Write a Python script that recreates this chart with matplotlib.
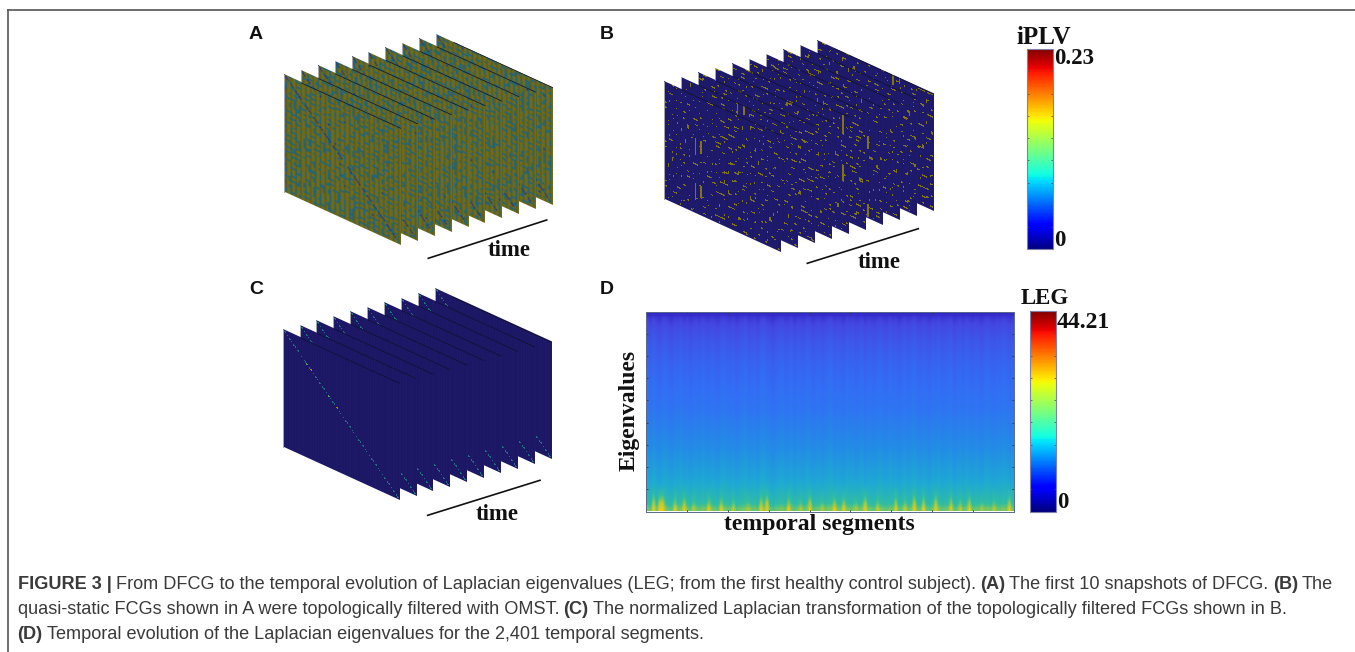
import numpy as np
import matplotlib
matplotlib.use("Agg")
import matplotlib.pyplot as plt
from matplotlib.cm import ScalarMappable
from matplotlib.colors import ListedColormap, LinearSegmentedColormap, Normalize
from matplotlib.transforms import Affine2D

# panel A: snapshot read on a 48x48 grid, . = olive, o = teal, # = deep blue
A_GRID = [
    "..o....o...oo.....o....o..oo...o.....o...o..oo..",
    "o....oo.....o..o.....oo.....o....oo.....o.....o.",
    "...o.....o.....#..o.....o.....o....o..o...oo....",
    ".o....oo...o.o.....oo.....o.o...oo.....o.....o..",
    "....o.....oo.....o.....o.....oo.....o.o...o.....",
    "oo.....o.....o.o...oo.....o.....o......oo....o.o",
    "...o.o...o.......o.....oo.....o...o.o.....o.....",
    ".....oo.....oo.o.....o.....o....oo.....o.....oo.",
    ".o.....o.o.....o..oo.....#....o.....o.....oo....",
    "...oo.....o.....o.....oo.....o...oo...o.o.....o.",
    "o.....o.....oo.....o.....o.o.....o.......oo.....",
    "..o.o...oo.....o.....oo.....oo.....oo.o.....o.o.",
    ".....oo.....o.....#o.....o.....o.....o...oo.....",
    "o.......o.o...oo.....o.o...oo....o.o.....o...oo.",
    "..oo.o.....o.....oo.....o.....o......oo.....o...",
    ".....o..oo...o.o.....o.....oo...o.o.....o.....o.",
    ".o.....o.....o....oo...o.o.....o.....oo...o.....",
    "...o.o...oo.....o.....o.....o.oo...o.....oo..o.o",
    "o.....o.....o.o...oo.....oo.....o.....o.o.......",
    "..oo.....o.....o.....#o.....o.....oo.....o..oo..",
    ".....o.o...oo.....o.....o.o...oo.....o.....o....",
    ".o.o.....o.....o.o...oo.....o.....o.o...oo....o.",
    "....oo.....oo.....o.....oo...oo.o.....o.....o...",
    "o.......o.o...o.oo...o.....o.....oo.....o.o...oo",
    "..o.oo.....o.....o.....o.o...o.o.....oo.....o...",
    ".....o..o.....oo...o.o.....oo.....o.o...oo......",
    ".oo.....o.oo.....o.....#o.....o.....o.....o.oo..",
    "....o.o.....o.o...oo.....o.o...oo...oo.o.....o..",
    "o.....oo.....o.....o.oo.....oo.....o.....oo.....",
    "..o.o.....oo...o.o.....o.....o.o.....o.o.....o.o",
    ".....oo.o.....o.....oo...o.o.....oo.....#.o.....",
    ".o.......o.oo.....o.....oo.....o.....o.o...oo...",
    "...oo.o.....o.o...oo.o.....oo...o.o.....o.....o.",
    "o.....o..oo.....o.....o.o.....o.....oo.....oo...",
    "..o.o.....o.o.....oo.....#o.....o.o...oo.o.....o",
    ".....oo.....oo.o.....o.o.....oo.....o.....o.o...",
    ".o.o.....o.....o..oo.....oo.....o.oo...o.....o..",
    "....oo.o...oo.....o.....o...oo.....o.o...oo.....",
    "oo.....o.....o.oo...o.o.....o..o.....oo.....o.o.",
    "...o.o...oo.....o.....oo.....o.....o.....o.oo...",
    ".....o.....o.oo...oo.....o.o...oo.o...oo.....o..",
    ".oo.....o.o.....o.....oo.....oo.....#.....o.o...",
    "...o.oo.....oo.....o.o...o.....o.o...oo.o.....oo",
    "o.....o..o.....o.o.....o...oo.....o.....o...o...",
    "..oo.....oo.o.....oo.....o.....oo...oo.....oo...",
    ".....o.o.....o.o.....o.o...oo.....o.....o.o....o",
    ".o.o.....oo.....o.oo.....o.....o.o..oo.....o....",
    "...oo.o.....o.o.....o..oo...o.....o.....oo...o.o",
]
A_DIAG = "1101011001101101011010110011011010110101101101"
A_SHIFT = [0, 11, 23, 5, 37, 17, 29, 41, 8, 19]
A_SHIFT2 = [31, 7, 44, 19, 3, 26, 13, 38, 22, 34]

# panel B: yellow cells per row on a 60x60 grid of the filtered snapshot
B_COLS = [
    [4, 5, 31, 52], [22, 23, 24, 47], [9, 38], [15, 44, 45, 46, 58], [2, 27, 33], [51], [12, 13, 40, 56], [6, 29, 30, 31],
    [18, 49], [3, 36, 37, 54, 55], [25], [10, 11, 43], [33, 34, 35, 50, 59], [1, 20], [7, 28, 46, 47], [16, 17, 41],
    [23, 38, 39, 53], [5, 31], [12, 44, 45, 57], [26, 27, 28, 29, 48], [9, 35], [2, 20, 21, 52], [14, 42, 43], [30, 55, 56],
    [6, 24, 25, 37], [18, 48, 49, 50], [11], [33, 34, 44, 59], [3, 4, 22, 40], [16, 28, 53, 54], [8, 9, 36, 37, 38],
    [25, 46], [13, 31, 32, 33, 51], [1, 19, 42], [6, 27, 57, 58], [15, 16, 17, 35, 36], [22, 47], [10, 40, 41, 53],
    [4, 29, 30, 31, 32], [18, 44], [12, 25, 26, 50, 51], [7, 37], [2, 20, 33, 34, 56], [15, 42, 48], [9, 27, 28],
    [16, 19, 38, 54], [5, 16, 19, 31, 45, 46], [16, 19, 24, 25], [11, 16, 19, 41, 52], [3, 16, 19, 34, 35, 36],
    [16, 19, 28, 47, 58], [8, 16, 19, 22, 43], [13, 16, 38, 39, 50], [1, 16, 26, 27], [6, 33, 55, 56], [20, 21, 44],
    [10, 30, 31, 49], [4, 36, 37, 53], [15, 24, 41, 42], [8, 28, 46, 47, 59],
]
B_SHIFT = [0, 13, 27, 6, 41, 19, 33, 47, 9, 23]
B_SHIFT2 = [37, 2, 51, 29, 16, 44, 8, 25, 55, 12]

# panel C: diagonal tone on a 90x90 grid, 0 = none, 1 = teal, 2 = green, 3 = orange
C_DIAG = "110101101101001011201301011010110102101103011010110101101011010110101101011010101101010110"

# panel D: eigenvalue level per row (top to bottom), drift per column, bright spikes
D_LEVEL = [0.00, 0.06, 0.10, 0.13, 0.15, 0.17, 0.19, 0.20, 0.22, 0.23,
           0.25, 0.26, 0.27, 0.28, 0.29, 0.30, 0.31, 0.32, 0.33, 0.34,
           0.36, 0.38, 0.40, 0.42, 0.44, 0.46, 0.48, 0.50, 0.52, 0.54,
           0.56, 0.58, 0.60, 0.62, 0.65, 0.68, 0.71, 0.74, 0.78, 0.86]
D_DRIFT = [0.02, -0.01, 0.03, 0.00, -0.02, 0.01, 0.02, -0.01, -0.02, 0.01,
           0.00, 0.02, -0.01, 0.01, -0.02, 0.00, 0.01, -0.01, 0.02, 0.00,
           -0.01, 0.01, 0.00, -0.02, 0.01, 0.02, 0.00, -0.01, 0.01, -0.02,
           0.00, 0.01, 0.03, -0.01, 0.00, 0.01, -0.02, 0.02, 0.03, 0.00,
           -0.01, -0.03, 0.00, 0.01, 0.02, -0.01, 0.00, 0.02, -0.02, 0.01,
           0.00, -0.01, 0.02, 0.01, -0.02, 0.00, 0.01, -0.01, 0.00, 0.02,
           0.03, -0.01, 0.01, 0.00, -0.02, 0.02, 0.00, 0.01, -0.01, 0.00,
           0.02, -0.02, 0.01, 0.00, -0.01, 0.01, 0.02, 0.00, -0.01, 0.02,
           0.00, 0.01, -0.02, 0.00, 0.02, -0.01, 0.01, 0.03, 0.00, -0.01,
           0.01, 0.00, -0.02, 0.01, 0.00, 0.02, -0.01, 0.00, 0.01, 0.02,
           -0.02, 0.00, 0.01, -0.01, 0.02, 0.00, -0.01, 0.01, 0.00, -0.02,
           0.01, 0.02, 0.00, -0.01, 0.01, 0.00, 0.02, 0.01, -0.01, 0.00]
D_SPIKE_COL = [2, 4, 5, 9, 12, 15, 20, 24, 28, 33, 37, 39, 46, 50, 53, 57, 61, 64, 68, 71,
               75, 81, 84, 87, 90, 94, 99, 102, 105, 109, 113, 118]
D_SPIKE_AMP = [0.22, 0.30, 0.26, 0.16, 0.22, 0.10, 0.18, 0.16, 0.10, 0.09, 0.20, 0.30, 0.18, 0.09, 0.24, 0.10, 0.20, 0.22, 0.10, 0.28,
               0.10, 0.20, 0.10, 0.22, 0.20, 0.26, 0.18, 0.10, 0.22, 0.10, 0.12, 0.24]
D_SPIKE_RAMP = [0.85, 0.65, 0.45, 0.25, 0.1]

A_COLORS = ["#6c6b20", "#5c5e20", "#226478", "#23357f"]
B_COLORS = ["#1d1968", "#1f1b6c", "#7f7512"]
C_COLORS = ["#1c1764", "#1f6e80", "#4f9a60", "#b07a20", "#1e1967"]
D_COLORS = [(0.0, "#3228c8"), (0.1, "#4446e1"), (0.3, "#326ef5"), (0.5, "#238ce6"),
            (0.65, "#1eaad2"), (0.8, "#32bea0"), (0.9, "#8cc850"), (1.0, "#ebc81e")]

BAR_TICKS = 10
FS_LETTER = 14
FS_SERIF = 16.5
W, H = 1355, 652

plt.rcParams["font.family"] = "Liberation Sans"
fig = plt.figure(figsize=(W / 100, H / 100), dpi=100)
ax = fig.add_axes([0, 0, 1, 1])


def px_axes(x0, y0, x1, y1):
    return fig.add_axes([x0 / W, 1 - y1 / H, (x1 - x0) / W, (y1 - y0) / H])


def draw_stack(layers, colors, x0, y0, back_x, back_y, interp):
    # layers go from the front slice to the back one, painted back to front
    n = len(layers)
    cmap = ListedColormap(colors)
    for i in range(n - 1, -1, -1):
        xs = x0 + (back_x - x0) * i / (n - 1)
        ys = y0 + (back_y - y0) * i / (n - 1)
        tr = Affine2D.from_values(116.7, 53.3, 0, 117.2, xs, ys)
        ax.imshow(layers[i], cmap=cmap, vmin=0, vmax=len(colors) - 1, extent=(0, 1, 1, 0),
                  transform=tr + ax.transData, interpolation=interp, interpolation_stage="rgba",
                  aspect="auto", zorder=2)
        ax.plot([xs + 18, xs + 116.7], [ys + 8.2, ys + 53.3], color="#10102a", lw=0.5, zorder=2)
        ax.plot([xs, xs], [ys, ys + 117.2], color="#a8a8b0", lw=0.7, zorder=2)


def thin(mask):
    # same cells on a grid 1.5x finer, so a single cell stays small, runs stay joined
    n = mask.shape[0]
    idx = np.arange(n) * 3 // 2
    out = np.zeros((idx[-1] + 2, idx[-1] + 2), dtype=bool)
    for r, c in np.argwhere(mask):
        out[idx[r], idx[c]] = True
        if c + 1 < n and mask[r, c + 1]:
            out[idx[r], idx[c]:idx[c + 1]] = True
        if r + 1 < n and mask[r + 1, c]:
            out[idx[r]:idx[r + 1], idx[c]] = True
    return out


def a_layers():
    base = np.array([[".o#".index(c) for c in r.ljust(48, ".")[:48]] for r in A_GRID])
    out = []
    for s, s2 in zip(A_SHIFT, A_SHIFT2):
        teal = thin(np.roll(base == 1, (s, s), axis=(0, 1)) | np.roll(base == 1, (s2, s), axis=(0, 1)))
        deep = thin(np.roll(base == 2, (s, s), axis=(0, 1)))
        m = np.zeros_like(teal, dtype=int)
        m[:, 1::3] = 1
        m[teal] = 2
        m[deep] = 3
        for k, c in enumerate(A_DIAG):
            if c == "1":
                m[k * 3 // 2, k * 3 // 2] = 3
                m[k * 3 // 2 + 1, k * 3 // 2 + 1] = 3
        out.append(m)
    return out


def b_layers():
    mask = np.zeros((60, 60), dtype=bool)
    for r, cols in enumerate(B_COLS):
        mask[r, cols] = True
    out = []
    for s, s2 in zip(B_SHIFT, B_SHIFT2):
        dots = thin(np.roll(mask, (s, s), axis=(0, 1)) | np.roll(mask, (s2, s), axis=(0, 1)))
        m = np.zeros_like(dots, dtype=int)
        m[:, 1::2] = 1
        m[dots] = 2
        out.append(m)
    return out


def c_layers():
    base = np.zeros((90, 90), dtype=int)
    base[:, 1::2] = 4
    for k, c in enumerate(C_DIAG):
        if c != "0":
            base[k, k] = int(c)
    return [base] * 10


draw_stack(a_layers(), A_COLORS, 284, 75, 436, 34.3, "bilinear")
draw_stack(b_layers(), B_COLORS, 664.3, 82, 816.7, 40.7, "nearest")
draw_stack(c_layers(), C_COLORS, 282.7, 330, 434.7, 289, "nearest")

# time arrows and labels
for (xa, ya, xb, yb, tx, ty) in [(428.3, 258.3, 546.7, 220, 509.3, 250),
                                 (807.3, 263.3, 918.3, 228.7, 879, 262.5),
                                 (427.7, 515.3, 540, 480.3, 497, 514.5)]:
    ax.plot([xa, xb], [ya, yb], color="#111111", lw=1.2, zorder=3)
    ax.text(tx, ty, "time", family="Liberation Serif", weight="bold", fontsize=FS_SERIF,
            ha="center", va="center", color="#111111", zorder=3)

# panel letters
for lab, lx, ly in [("A", 256, 34.5), ("B", 606.5, 34.5), ("C", 256, 289.5), ("D", 607, 290)]:
    ax.text(lx, ly, lab, weight="bold", fontsize=FS_LETTER, ha="center", va="center", color="#111111")

# panel D heatmap
z = np.array(D_LEVEL)[:, None] + np.array(D_DRIFT)[None, :]
z[0] = D_LEVEL[0]
for col, amp in zip(D_SPIKE_COL, D_SPIKE_AMP):
    for k, w in enumerate(D_SPIKE_RAMP):
        z[-1 - k, col] += amp * w
d_cmap = LinearSegmentedColormap.from_list("leg", D_COLORS)
axd = px_axes(646, 311.5, 1014, 511.5)
axd.imshow(np.clip(z, 0, 1), cmap=d_cmap, vmin=0, vmax=1, aspect="auto", interpolation="bilinear")
axd.set_xticks(np.linspace(-0.5, 119.5, 10)[1:-1])
axd.set_yticks(np.linspace(-0.5, 39.5, 10)[1:-1])
axd.tick_params(direction="in", length=1.5, width=0.6, color="#333344", labelbottom=False, labelleft=False,
                top=True, right=True)
for sp in axd.spines.values():
    sp.set_color("#5a6a8a")
    sp.set_linewidth(0.7)


def add_bar(x0, y0, x1, y1, vmax):
    cax = px_axes(x0, y0, x1, y1)
    cb = fig.colorbar(ScalarMappable(Normalize(0, vmax), "jet"), cax=cax)
    cb.set_ticks(np.linspace(0, vmax, BAR_TICKS)[1:-1])
    cb.ax.tick_params(direction="in", length=1.5, width=0.5, color="#444455", labelright=False,
                      left=True, right=True)
    cb.outline.set_edgecolor("#8080a8")
    cb.outline.set_linewidth(0.8)


add_bar(1026.7, 49, 1052.7, 249.3, 0.23)
add_bar(1029.5, 311, 1055.5, 511.5, 44.21)

serif = dict(family="Liberation Serif", weight="bold", color="#111111", va="center")
ax.text(1043.5, 37, "iPLV", ha="center", fontsize=18, **serif)
ax.text(1054, 59, "0.23", ha="left", fontsize=FS_SERIF, **serif)
ax.text(1054, 240, "0", ha="left", fontsize=FS_SERIF, **serif)
ax.text(1044.5, 298, "LEG", ha="center", fontsize=FS_SERIF, **serif)
ax.text(1057, 322, "44.21", ha="left", fontsize=17, **serif)
ax.text(1057, 503, "0", ha="left", fontsize=FS_SERIF, **serif)
ax.text(819, 524.5, "temporal segments", ha="center", fontsize=17.1, **serif)
ax.text(629, 410, "Eigenvalues", rotation=90, ha="center", fontsize=17, **serif)

# caption, run by run
CAPTION = [
    (584.5, [("FIGURE 3 |", True), ("From DFCG to the temporal evolution of Laplacian eigenvalues (LEG; from the first healthy control subject).", False),
             ("(A)", True), ("The first 10 snapshots of DFCG.", False), ("(B)", True), ("The", False)]),
    (609.5, [("quasi-static FCGs shown in A were topologically filtered with OMST.", False), ("(C)", True),
             ("The normalized Laplacian transformation of the topologically filtered FCGs shown in B.", False)]),
    (634.5, [("(D)", True), ("Temporal evolution of the Laplacian eigenvalues for the 2,401 temporal segments.", False)]),
]
rend = fig.canvas.get_renderer()
for y, runs in CAPTION:
    x = 17.5
    for txt, bold in runs:
        t = ax.text(x, y, txt, fontsize=13.1, weight="bold" if bold else "normal", color="#3a3a3a",
                    ha="left", va="center")
        x += t.get_window_extent(rend).width + 4.2

# rule along the top, and the left edge
ax.plot([7.5, 1355], [9.5, 9.5], color="#555555", lw=1.2, zorder=1)
ax.plot([7.5, 7.5], [9.5, 652], color="#555555", lw=1.2, zorder=1)

ax.set_xlim(0, W)
ax.set_ylim(H, 0)
ax.axis("off")

fig.savefig("out.png", dpi=100)
